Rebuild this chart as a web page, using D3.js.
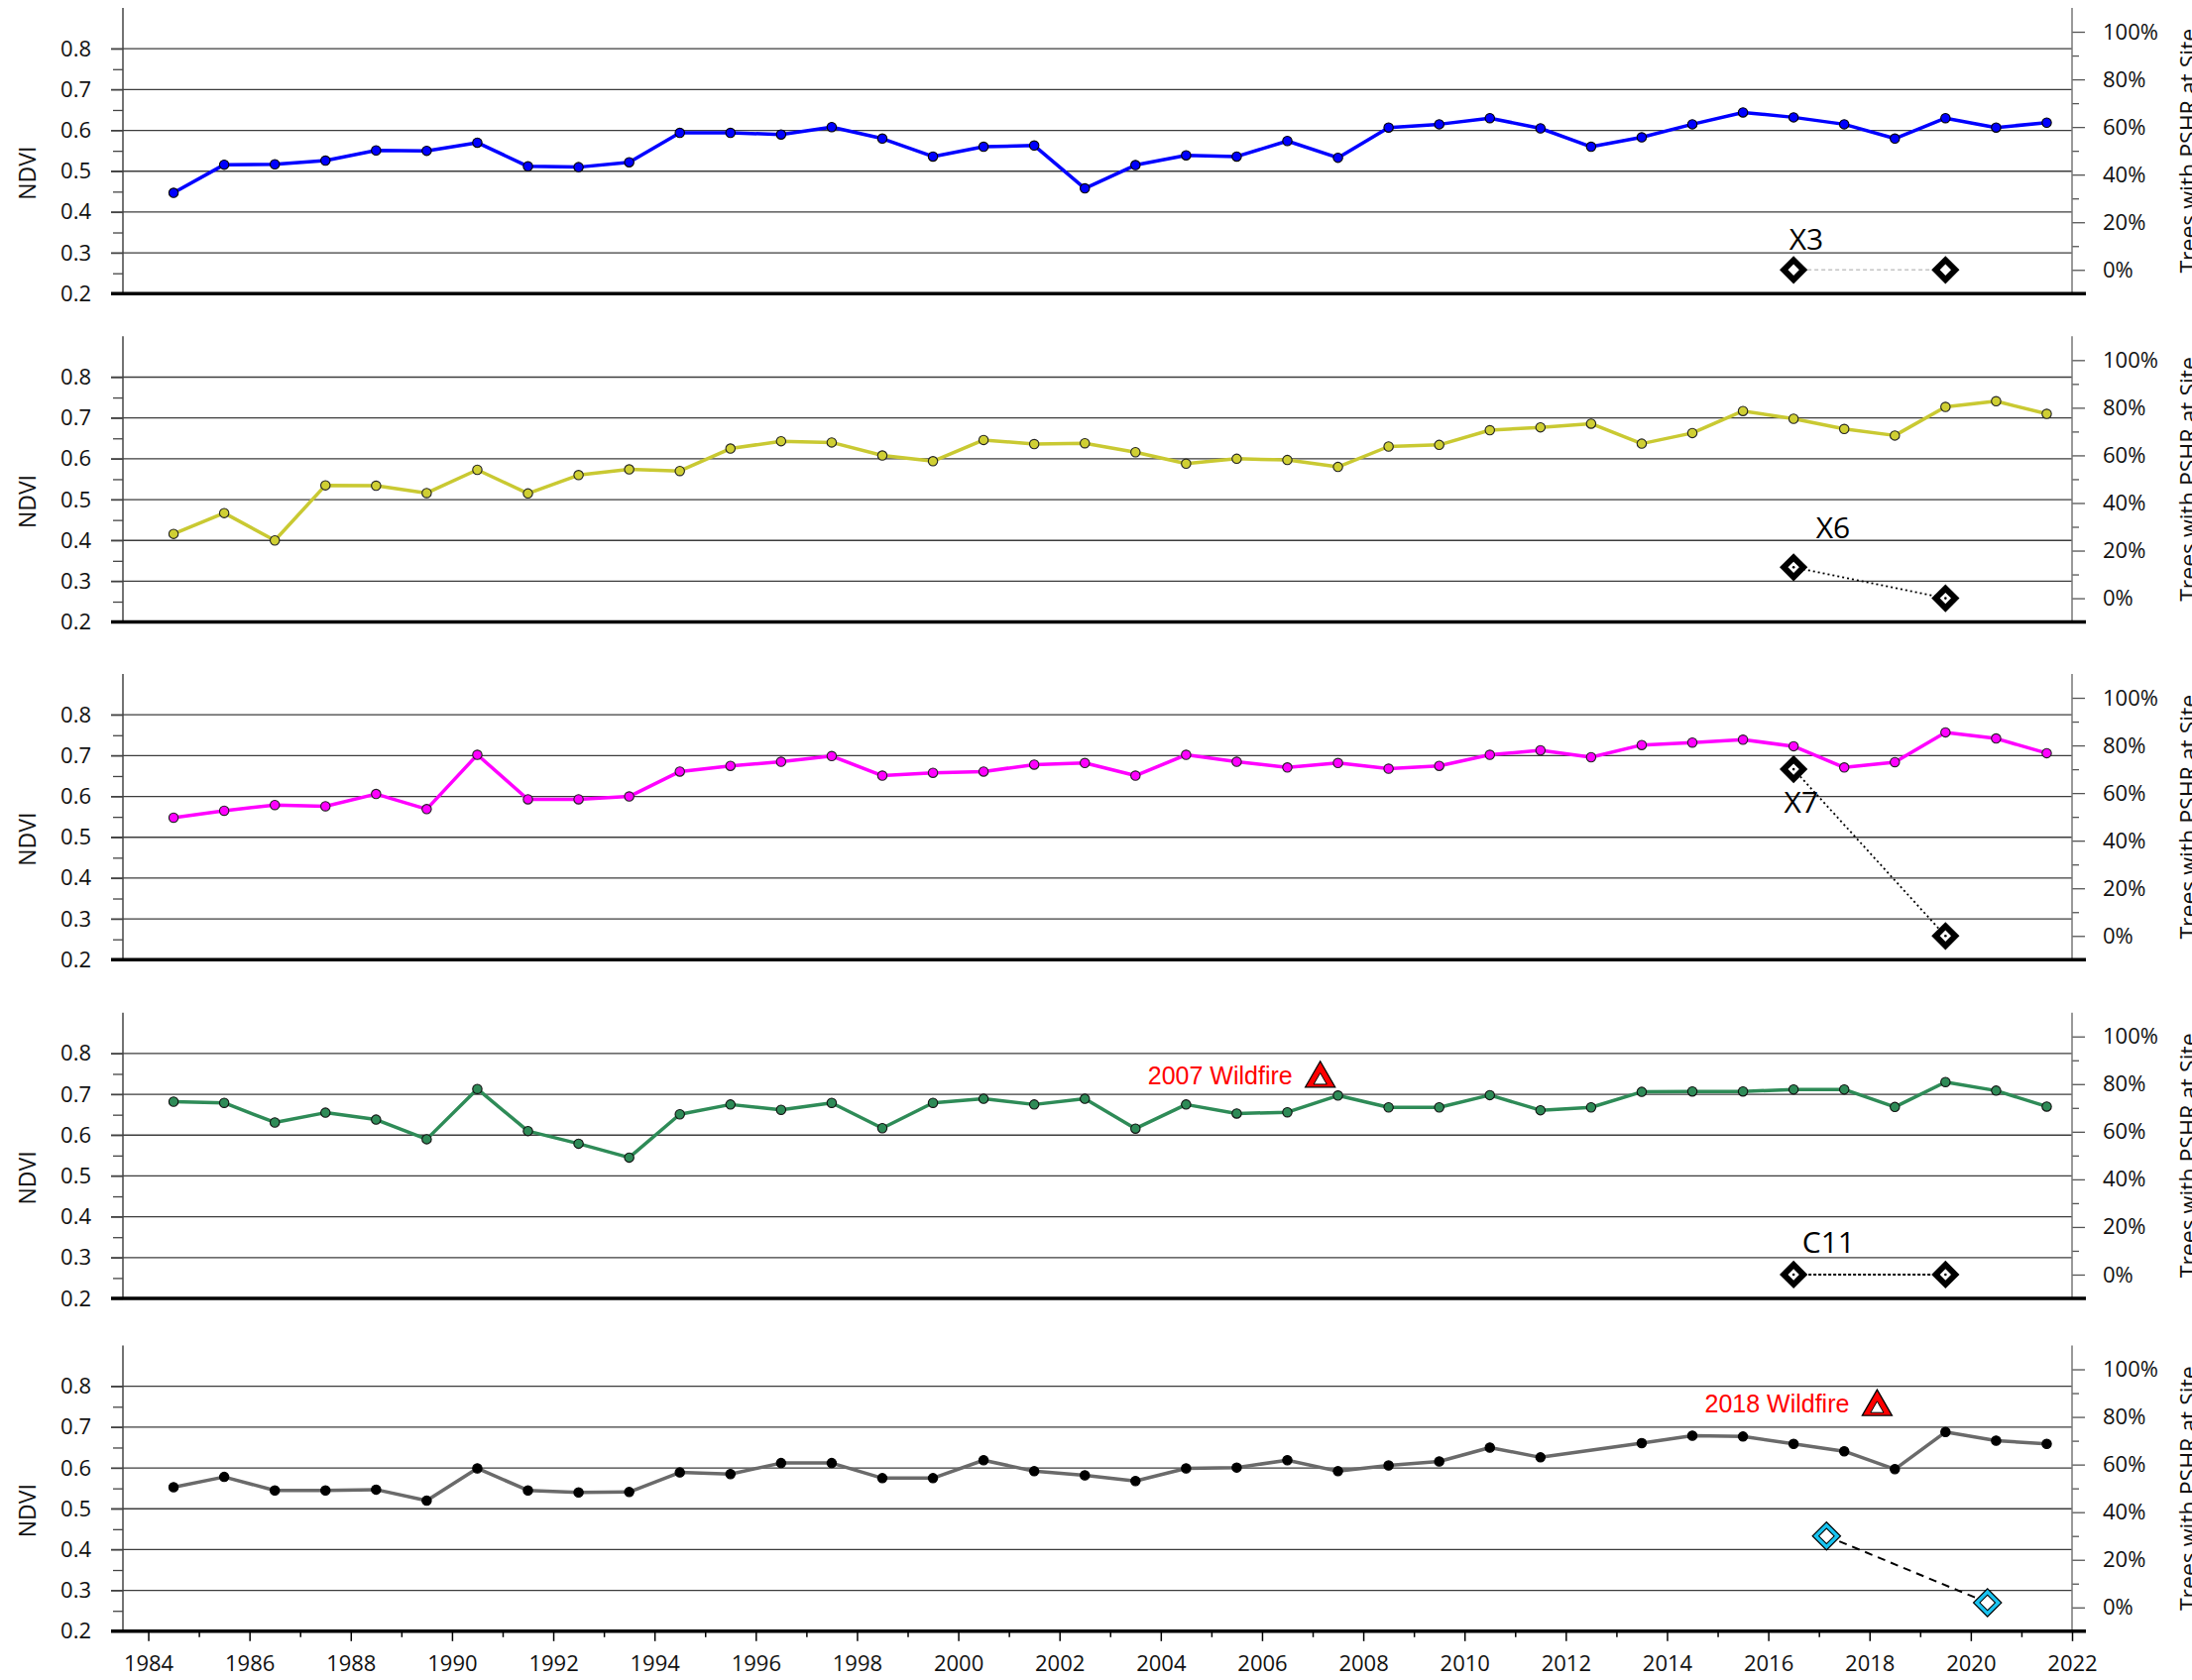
<!DOCTYPE html>
<html><head><meta charset="utf-8">
<script src="https://cdn.jsdelivr.net/npm/d3@7"></script>
<style>
body{margin:0;background:#fff;}
svg{display:block;}
</style>
</head><body>
<svg id="chart" width="2211" height="1695"></svg>
<script>
// ---------------- DATA ----------------
const years = [1984,1985,1986,1987,1988,1989,1990,1991,1992,1993,1994,1995,1996,1997,1998,1999,2000,2001,2002,2003,2004,2005,2006,2007,2008,2009,2010,2011,2012,2013,2014,2015,2016,2017,2018,2019,2020,2021];

const ndviX3 = [0.447,0.516,0.517,0.526,0.551,0.550,0.570,0.512,0.510,0.522,0.594,0.594,0.590,0.608,0.580,0.536,0.560,0.563,0.458,0.515,0.539,0.536,0.574,0.533,0.607,0.615,0.630,0.605,0.560,0.583,0.615,0.644,0.632,0.615,0.580,0.630,0.607,0.619];
const ndviX6 = [0.416,0.467,0.400,0.535,0.534,0.516,0.573,0.515,0.560,0.574,0.570,0.625,0.643,0.640,0.608,0.594,0.646,0.636,0.638,0.616,0.588,0.600,0.597,0.580,0.630,0.634,0.670,0.677,0.686,0.637,0.663,0.717,0.698,0.673,0.657,0.727,0.741,0.710];
const ndviX7 = [0.548,0.565,0.579,0.576,0.606,0.569,0.702,0.593,0.593,0.600,0.661,0.675,0.685,0.699,0.651,0.658,0.661,0.678,0.682,0.651,0.702,0.685,0.671,0.682,0.668,0.675,0.702,0.713,0.696,0.726,0.732,0.739,0.723,0.671,0.684,0.757,0.742,0.706];
const ndviC11 = [0.682,0.679,0.631,0.655,0.638,0.590,0.713,0.610,0.579,0.545,0.651,0.675,0.662,0.679,0.617,0.679,0.689,0.675,0.689,0.616,0.675,0.653,0.656,0.697,0.668,0.668,0.698,0.661,0.668,0.706,0.707,0.707,0.712,0.712,0.669,0.730,0.709,0.670];
const ndviSite5 = [0.553,0.578,0.545,0.545,0.547,0.520,0.599,0.545,0.540,0.541,0.589,0.585,0.612,0.612,0.575,0.575,0.619,0.592,0.582,0.568,0.599,0.601,0.619,0.592,0.606,0.616,0.650,0.626,null,0.661,0.679,0.677,0.659,0.641,0.597,0.688,0.667,0.659];

const pshrSurveyYears = [2016.5, 2019.5];
const pshrX3 = [0, 0];
const pshrX6 = [13, 0];
const pshrX7 = [70, 0];
const pshrC11 = [0, 0];
const pshrSite5Years = [2017.15, 2020.33];
const pshrSite5 = [30, 2];

const siteNames = ["X3", "X6", "X7", "C11", ""];
const siteLabelYears = [2016.75, 2017.28, 2016.65, 2017.19, null];
const siteLabelPct = [8.3, 25.2, 51.6, 9.3, null];

const wildfireLabels = ["", "", "", "2007 Wildfire", "2018 Wildfire"];
const wildfireYears = [null, null, null, 2007.15, 2018.15];
const wildfireNdvi = [null, null, null, 0.746, 0.757];

const ndviTicks = [0.2,0.3,0.4,0.5,0.6,0.7,0.8];
const ndviMinorTicks = [0.25,0.35,0.45,0.55,0.65,0.75];
const gridTicks = [0.3,0.4,0.5,0.6,0.7,0.8];
const pctTicks = [0,20,40,60,80,100];
const pctMinorTicks = [10,30,50,70,90];
const yearTicks = [1984,1986,1988,1990,1992,1994,1996,1998,2000,2002,2004,2006,2008,2010,2012,2014,2016,2018,2020,2022];
const yearMinorTicks = [1985,1987,1989,1991,1993,1995,1997,1999,2001,2003,2005,2007,2009,2011,2013,2015,2017,2019,2021];

// ---------------- STYLE / LAYOUT ----------------
const panelTops = [8, 339.3, 680, 1021.7, 1357.5];
const panelH = 288.3;
const panels = [
  {ndvi: ndviX3, pYears: pshrSurveyYears, pshr: pshrX3, line:"#0000ff", dot:"#0000ff", dotStroke:"#000", conn:"#c4c4c4", dash:"4,3", connW:1.5, cyan:false, centerDot:false},
  {ndvi: ndviX6, pYears: pshrSurveyYears, pshr: pshrX6, line:"#c9c932", dot:"#cfcf33", dotStroke:"#222", conn:"#000", dash:"2,3", connW:1.8, cyan:false, centerDot:true},
  {ndvi: ndviX7, pYears: pshrSurveyYears, pshr: pshrX7, line:"#ff00ff", dot:"#ff00ff", dotStroke:"#222", conn:"#000", dash:"2,3", connW:1.8, cyan:false, centerDot:true},
  {ndvi: ndviC11, pYears: pshrSurveyYears, pshr: pshrC11, line:"#2e8b57", dot:"#2e8b57", dotStroke:"#111", conn:"#000", dash:"3,2", connW:1.8, cyan:false, centerDot:true},
  {ndvi: ndviSite5, pYears: pshrSite5Years, pshr: pshrSite5, line:"#6a6a6a", dot:"#000", dotStroke:"#000", conn:"#000", dash:"8,6", connW:2, cyan:true, centerDot:false}
];

const FONT = "'Open Sans', 'Noto Sans', sans-serif";
const svg = d3.select("#chart");
const x = d3.scaleLinear().domain([1983.5, 2022]).range([124, 2090]);
const xL = x.range()[0], xR = x.range()[1];

panels.forEach((p, i) => {
  const top = panelTops[i], bottom = top + panelH;
  const y = d3.scaleLinear().domain([0.2, 0.9]).range([bottom, top]);
  const yp = d3.scaleLinear().domain([-10, 110]).range([bottom, top]);
  const g = svg.append("g");

  // gridlines
  g.selectAll(".grid").data(gridTicks).join("line")
    .attr("x1", xL - 12).attr("x2", xR)
    .attr("y1", d => y(d)).attr("y2", d => y(d))
    .attr("stroke", "#3c3c3c").attr("stroke-width", 1.3);

  // left axis
  const la = g.append("g").attr("transform", `translate(${xL},0)`)
    .call(d3.axisLeft(y).tickValues(ndviTicks).tickSizeInner(12).tickSizeOuter(0).tickPadding(20).tickFormat(d3.format(".1f")));
  la.select(".domain").remove();
  la.selectAll("line").attr("stroke", "#444").attr("stroke-width", 1.3);
  la.selectAll("text").attr("font-family", FONT).attr("font-size", 22).attr("fill", "#111");
  const lm = g.append("g").attr("transform", `translate(${xL},0)`)
    .call(d3.axisLeft(y).tickValues(ndviMinorTicks).tickSizeInner(10).tickSizeOuter(0).tickFormat(""));
  lm.select(".domain").remove();
  lm.selectAll("line").attr("stroke", "#444").attr("stroke-width", 1.3);
  g.append("line").attr("x1", xL).attr("x2", xL).attr("y1", top).attr("y2", bottom)
    .attr("stroke", "#444").attr("stroke-width", 1.5);

  // right axis
  const ra = g.append("g").attr("transform", `translate(${xR},0)`)
    .call(d3.axisRight(yp).tickValues(pctTicks).tickSizeInner(13).tickSizeOuter(0).tickPadding(18).tickFormat(d => d + "%"));
  ra.select(".domain").remove();
  ra.selectAll("line").attr("stroke", "#555").attr("stroke-width", 1.3);
  ra.selectAll("text").attr("font-family", FONT).attr("font-size", 22).attr("fill", "#111");
  const rm = g.append("g").attr("transform", `translate(${xR},0)`)
    .call(d3.axisRight(yp).tickValues(pctMinorTicks).tickSizeInner(7).tickSizeOuter(0).tickFormat(""));
  rm.select(".domain").remove();
  rm.selectAll("line").attr("stroke", "#555").attr("stroke-width", 1.3);
  g.append("line").attr("x1", xR).attr("x2", xR).attr("y1", top).attr("y2", bottom)
    .attr("stroke", "#777").attr("stroke-width", 1.5);

  // bottom axis (ticks only on last panel)
  if (i === panels.length - 1) {
    const ba = g.append("g").attr("transform", `translate(0,${bottom})`)
      .call(d3.axisBottom(x).tickValues(yearTicks).tickSizeInner(10).tickSizeOuter(0).tickPadding(15).tickFormat(d3.format("d")));
    ba.select(".domain").remove();
    ba.selectAll("line").attr("stroke", "#000").attr("stroke-width", 1.5);
    ba.selectAll("text").attr("font-family", FONT).attr("font-size", 22).attr("fill", "#111");
    const bm = g.append("g").attr("transform", `translate(0,${bottom})`)
      .call(d3.axisBottom(x).tickValues(yearMinorTicks).tickSizeInner(6).tickSizeOuter(0).tickFormat(""));
    bm.select(".domain").remove();
    bm.selectAll("line").attr("stroke", "#000").attr("stroke-width", 1.5);
  }
  g.append("line").attr("x1", xL - 12).attr("x2", xR + 14).attr("y1", bottom).attr("y2", bottom)
    .attr("stroke", "#000").attr("stroke-width", 3.5);

  // axis titles
  g.append("text").attr("transform", `translate(36,${y(0.5) + 2}) rotate(-90)`)
    .attr("text-anchor", "middle").attr("font-family", FONT).attr("font-size", 23).attr("fill", "#111").text("NDVI");
  g.append("text").attr("transform", `translate(2216,${(top + bottom) / 2}) rotate(-90)`)
    .attr("text-anchor", "middle").attr("font-family", FONT).attr("font-size", 23).attr("fill", "#111").text("Trees with PSHR at Site");

  // PSHR survey markers
  const pts = p.pYears.map((yr, k) => ({yr, v: p.pshr[k]}));
  g.append("path").datum(pts)
    .attr("d", d3.line().x(d => x(d.yr)).y(d => yp(d.v)))
    .attr("fill", "none").attr("stroke", p.conn).attr("stroke-width", p.connW).attr("stroke-dasharray", p.dash);
  if (p.cyan) {
    g.selectAll(".dm").data(pts).join("rect")
      .attr("x", -10).attr("y", -10).attr("width", 20).attr("height", 20)
      .attr("transform", d => `translate(${x(d.yr)},${yp(d.v)}) rotate(45)`)
      .attr("fill", "#19c3f0").attr("stroke", "#000").attr("stroke-width", 1.2);
    g.selectAll(".dmi").data(pts).join("rect")
      .attr("x", -5.5).attr("y", -5.5).attr("width", 11).attr("height", 11)
      .attr("transform", d => `translate(${x(d.yr)},${yp(d.v)}) rotate(45)`)
      .attr("fill", "#fff").attr("stroke", "#000").attr("stroke-width", 1);
  } else {
    g.selectAll(".dm").data(pts).join("rect")
      .attr("x", -7).attr("y", -7).attr("width", 14).attr("height", 14)
      .attr("transform", d => `translate(${x(d.yr)},${yp(d.v)}) rotate(45)`)
      .attr("fill", "#fff").attr("stroke", "#000").attr("stroke-width", 6);
    if (p.centerDot) {
      g.selectAll(".cd").data(pts).join("circle")
        .attr("cx", d => x(d.yr)).attr("cy", d => yp(d.v)).attr("r", 1.3).attr("fill", "#000");
    }
  }
  if (siteNames[i]) {
    g.append("text").attr("x", x(siteLabelYears[i])).attr("y", yp(siteLabelPct[i]))
      .attr("text-anchor", "middle").attr("font-family", FONT).attr("font-size", 30).attr("fill", "#000")
      .text(siteNames[i]);
  }

  // wildfire annotation
  if (wildfireLabels[i]) {
    const wx = x(wildfireYears[i]), wy = y(wildfireNdvi[i]);
    g.append("path").attr("transform", `translate(${wx},${wy + 3})`)
      .attr("d", d3.symbol(d3.symbolTriangle, 390)())
      .attr("fill", "#ff0000").attr("stroke", "#000").attr("stroke-width", 1.3);
    g.append("path").attr("transform", `translate(${wx},${wy + 5})`)
      .attr("d", d3.symbol(d3.symbolTriangle, 75)())
      .attr("fill", "#fff").attr("stroke", "#000").attr("stroke-width", 1);
    g.append("text").attr("x", wx - 28).attr("y", wy + 9)
      .attr("text-anchor", "end").attr("font-family", "'Liberation Sans', Arial, sans-serif")
      .attr("font-size", 25).attr("fill", "#ff0000").text(wildfireLabels[i]);
  }

  // NDVI series
  const data = years.map((yr, k) => ({yr: yr + 0.5, v: p.ndvi[k]})).filter(d => d.v !== null);
  g.append("path").datum(data)
    .attr("d", d3.line().x(d => x(d.yr)).y(d => y(d.v)))
    .attr("fill", "none").attr("stroke", p.line).attr("stroke-width", 3.5).attr("stroke-linejoin", "round");
  g.selectAll(".pt").data(data).join("circle")
    .attr("cx", d => x(d.yr)).attr("cy", d => y(d.v)).attr("r", 4.7)
    .attr("fill", p.dot).attr("stroke", p.dotStroke).attr("stroke-width", 1.1);
});
</script>
</body></html>
